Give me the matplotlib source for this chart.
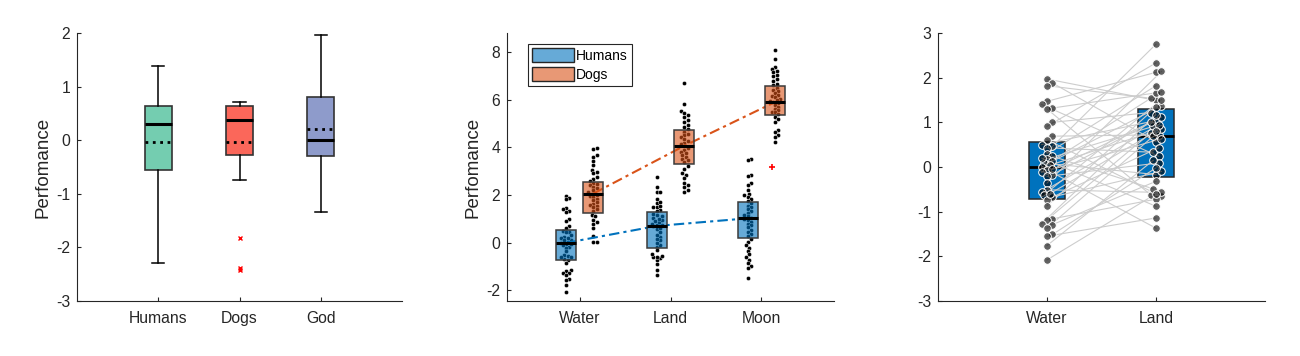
import numpy as np
import matplotlib.pyplot as plt
from matplotlib.patches import Patch

plt.rcParams['font.family'] = ['Liberation Sans', 'DejaVu Sans']
plt.rcParams['axes.unicode_minus'] = False
TXT = '#262626'

# ---- left panel: summary boxes
groups1 = ['Humans', 'Dogs', 'God']
colors1 = ['#74CDB0', '#FB675A', '#8E9BCB']
med1 = [0.30, 0.37, 0.01]
mean1 = [-0.03, -0.03, 0.21]
q1_1 = [-0.56, -0.27, -0.30]
q3_1 = [0.64, 0.64, 0.80]
wlo1 = [-2.30, -0.74, -1.34]
whi1 = [1.38, 0.71, 1.96]
fliers1 = [[], [-1.82, -2.38, -2.43], []]

# ---- middle panel: humans / dogs per condition
conds = ['Water', 'Land', 'Moon']
hum_water = [1.97, 1.88, 1.82, 1.47, 1.40, 1.32, 1.30, 1.00, 0.91, 0.69, 0.61, 0.50,
             0.46, 0.43, 0.30, 0.24, 0.18, 0.13, 0.09, 0.04, -0.01, -0.06, -0.12, -0.17,
             -0.21, -0.36, -0.51, -0.57, -0.62, -0.67, -0.73, -0.87, -1.16, -1.18, -1.27,
             -1.29, -1.37, -1.51, -1.55, -1.76, -2.08, 0.20, -0.05, -0.60]
# same order as hum_water -> paired subjects
hum_land = [1.49, 0.57, 1.54, 2.12, 0.24, 1.66, -0.62, 1.22, 2.33, 0.72, -0.66, 1.04,
            2.75, 0.33, 1.82, -0.49, 0.91, 1.37, -0.17, 0.85, 1.69, -1.37, 0.63, 1.12,
            0.09, 2.14, -0.57, 0.95, 1.51, -0.10, 0.43, 1.34, -0.72, 0.76, 1.17,
            -0.32, 0.69, -0.02, -1.14, 0.15, -0.60, -0.88, 1.00, 0.80]
hum_moon = [3.52, 3.45, 2.84, 2.78, 2.51, 2.44, 2.20, 2.06, 1.98, 1.92, 1.84, 1.76,
            1.65, 1.55, 1.48, 1.40, 1.32, 1.25, 1.18, 1.10, 1.04, 1.00, 0.95, 0.88,
            0.80, 0.72, 0.65, 0.55, 0.45, 0.35, 0.28, 0.14, 0.02, -0.12, -0.22, -0.35,
            -0.49, -0.60, -0.72, -0.85, -0.98, -1.08, -1.47]
dog_water = [3.98, 3.95, 3.66, 3.60, 3.42, 3.25, 3.05, 2.98, 2.92, 2.75, 2.68, 2.58,
             2.50, 2.45, 2.42, 2.35, 2.28, 2.20, 2.12, 2.06, 2.00, 1.95, 1.93, 1.85,
             1.78, 1.70, 1.62, 1.60, 1.55, 1.48, 1.40, 1.32, 1.18, 1.10, 0.97, 0.88,
             0.80, 0.63, 0.28, 0.04, 0.02]
dog_land = [6.70, 5.83, 5.51, 5.45, 5.37, 5.28, 5.16, 5.05, 4.95, 4.85, 4.76, 4.65,
            4.58, 4.50, 4.42, 4.35, 4.28, 4.20, 4.12, 4.05, 3.98, 3.90, 3.82, 3.75,
            3.68, 3.60, 3.52, 3.45, 3.38, 3.20, 3.10, 2.93, 2.85, 2.72, 2.51, 2.42,
            2.35, 2.21, 2.12]
dog_moon = [8.07, 7.72, 7.36, 7.28, 7.22, 7.15, 7.05, 6.98, 6.87, 6.77, 6.67, 6.60,
            6.50, 6.42, 6.35, 6.28, 6.20, 6.15, 6.12, 6.05, 5.98, 5.95, 5.92, 5.85,
            5.78, 5.70, 5.62, 5.55, 5.50, 5.48, 5.40, 5.28, 5.17, 5.06, 4.72, 4.64,
            4.50, 4.42, 4.22]
dog_moon_outlier = [3.18]

hum_med = [-0.01, 0.70, 1.02]
hum_q1 = [-0.72, -0.23, 0.21]
hum_q3 = [0.55, 1.29, 1.71]
dog_med = [2.06, 4.06, 5.90]
dog_q1 = [1.25, 3.30, 5.36]
dog_q3 = [2.55, 4.71, 6.56]

# ---- right panel: humans water vs land (paired)
conds3 = ['Water', 'Land']


def swarm(vals, ux, uy, dia, maxw):
    # simple beeswarm offsets, works in pixel units
    vals = np.asarray(vals, float)
    placed = []
    offs = np.zeros(len(vals))
    cands = [0.0]
    for k in range(1, 30):
        cands += [k * dia * 0.5, -k * dia * 0.5]
    cands = [c for c in cands if abs(c) <= maxw]
    for i in np.argsort(vals):
        y = vals[i] * uy
        best, bestd = 0.0, -1
        for c in cands:
            d = min([np.hypot(c - px, y - py) for px, py in placed] or [1e9])
            if d >= dia:
                best = c
                break
            if d > bestd:
                best, bestd = c, d
        placed.append((best, y))
        offs[i] = best / ux
    return offs


def style(ax):
    for s in ['top', 'right']:
        ax.spines[s].set_visible(False)
    for s in ['left', 'bottom']:
        ax.spines[s].set_color(TXT)
        ax.spines[s].set_linewidth(0.8)
    ax.tick_params(direction='in', length=3, width=0.8, color=TXT,
                   labelcolor=TXT, labelsize=11.3)
    ax.tick_params(axis='x', pad=7)
    ax.tick_params(axis='y', pad=5)


fig = plt.figure(figsize=(13, 3.56), dpi=100)
ax1 = fig.add_axes([77 / 1300, 55 / 356, 325 / 1300, 268 / 356])
ax2 = fig.add_axes([507 / 1300, 55 / 356, 327 / 1300, 268 / 356])
ax3 = fig.add_axes([938 / 1300, 55 / 356, 327 / 1300, 268 / 356])

# left
stats1 = []
for i in range(3):
    stats1.append(dict(med=med1[i], mean=mean1[i], q1=q1_1[i], q3=q3_1[i],
                       whislo=wlo1[i], whishi=whi1[i], fliers=fliers1[i]))
b = ax1.bxp(stats1, positions=[1, 2, 3], widths=0.33, patch_artist=True,
            showmeans=True, meanline=True, capwidths=0.15,
            boxprops=dict(edgecolor='#333333', linewidth=1.2),
            medianprops=dict(color='black', linewidth=2.2),
            meanprops=dict(color='black', linewidth=2, linestyle=':'),
            whiskerprops=dict(color='black', linewidth=1.1),
            capprops=dict(color='black', linewidth=1.1),
            flierprops=dict(marker='x', markeredgecolor='red', markersize=3,
                            markeredgewidth=1))
for p, c in zip(b['boxes'], colors1):
    p.set_facecolor(c)
ax1.set_xlim(0, 4)
ax1.set_ylim(-3, 2)
ax1.set_yticks([-3, -2, -1, 0, 1, 2])
ax1.set_xticks([1, 2, 3])
ax1.set_xticklabels(groups1)
ax1.set_ylabel('Perfomance', fontsize=13.5, color=TXT, labelpad=3)
style(ax1)

# middle
hum = [hum_water, hum_land, hum_moon]
dog = [dog_water, dog_land, dog_moon]
dx = 0.15
xh = [i + 1 - dx for i in range(3)]
xd = [i + 1 + dx for i in range(3)]
for i in range(3):
    for vals, x0 in [(hum[i], xh[i]), (dog[i], xd[i])]:
        off = swarm(vals, 90.5, 23.9, 3.4, 5.5)
        ax2.scatter(x0 + off, vals, s=9, color='black', edgecolors='white',
                    linewidths=0.3, zorder=1)
ax2.plot(xh, hum_med, color='#0072BD', lw=1.5, ls=(0, (5, 2, 1.5, 2)), zorder=2)
ax2.plot(xd, dog_med, color='#D95319', lw=1.5, ls=(0, (5, 2, 1.5, 2)), zorder=2)
for xs, meds, qa, qb, fc in [(xh, hum_med, hum_q1, hum_q3, (0, 0.447, 0.741, 0.6)),
                              (xd, dog_med, dog_q1, dog_q3, (0.851, 0.325, 0.098, 0.6))]:
    st = [dict(med=meds[i], q1=qa[i], q3=qb[i], whislo=qa[i], whishi=qb[i], fliers=[])
          for i in range(3)]
    bb = ax2.bxp(st, positions=xs, widths=0.22, patch_artist=True, showcaps=False,
                 showfliers=False, manage_ticks=False,
                 boxprops=dict(facecolor=fc, edgecolor='#3a3a3a', linewidth=1.1),
                 medianprops=dict(color='black', linewidth=2.2),
                 whiskerprops=dict(linewidth=0))
    for art in bb['boxes'] + bb['medians']:
        art.set_zorder(3)
ax2.scatter([xd[2] - 0.03] * len(dog_moon_outlier), dog_moon_outlier, marker='+',
            color='red', s=25, linewidths=1.2, zorder=4)
ax2.set_xlim(0.2, 3.8)
ax2.set_ylim(-2.45, 8.8)
ax2.set_yticks([-2, 0, 2, 4, 6, 8])
ax2.set_xticks([1, 2, 3])
ax2.set_xticklabels(conds)
ax2.set_ylabel('Perfomance', fontsize=13.5, color=TXT, labelpad=3)
leg = ax2.legend(handles=[Patch(facecolor=(0, 0.447, 0.741, 0.6), edgecolor='#262626', lw=1),
                          Patch(facecolor=(0.851, 0.325, 0.098, 0.6), edgecolor='#262626', lw=1)],
                 labels=['Humans', 'Dogs'], loc='upper left',
                 bbox_to_anchor=(21 / 327, 1 - 11 / 268), borderaxespad=0,
                 fancybox=False, edgecolor=TXT, framealpha=1, fontsize=10,
                 handlelength=3.0, handleheight=1.15, handletextpad=0.15,
                 labelspacing=0.3, borderpad=0.3)
leg.get_frame().set_linewidth(0.8)
style(ax2)

# right
ow = swarm(hum_water, 109.7, 44.7, 5.5, 7)
ol = swarm(hum_land, 109.7, 44.7, 5.5, 7)
st3 = [dict(med=hum_med[i], q1=hum_q1[i], q3=hum_q3[i], whislo=hum_q1[i],
            whishi=hum_q3[i], fliers=[]) for i in range(2)]
ax3.bxp(st3, positions=[1, 2], widths=0.33, patch_artist=True, showcaps=False,
        showfliers=False,
        boxprops=dict(facecolor='#0072BD', edgecolor='#2a2a2a', linewidth=1.1),
        medianprops=dict(color='black', linewidth=2),
        whiskerprops=dict(linewidth=0))
for i in range(len(hum_water)):
    ax3.plot([1 + ow[i], 2 + ol[i]], [hum_water[i], hum_land[i]], color='#CDCDCD',
             lw=0.8, zorder=3)
ax3.scatter(1 + ow, hum_water, s=30, color=(0, 0, 0, 0.62), edgecolors='white',
            linewidths=0.7, zorder=4)
ax3.scatter(2 + ol, hum_land, s=30, color=(0, 0, 0, 0.62), edgecolors='white',
            linewidths=0.7, zorder=4)
ax3.set_xlim(0, 3)
ax3.set_ylim(-3, 3)
ax3.set_yticks([-3, -2, -1, 0, 1, 2, 3])
ax3.set_xticks([1, 2])
ax3.set_xticklabels(conds3)
style(ax3)

fig.savefig('out.png', dpi=100)
